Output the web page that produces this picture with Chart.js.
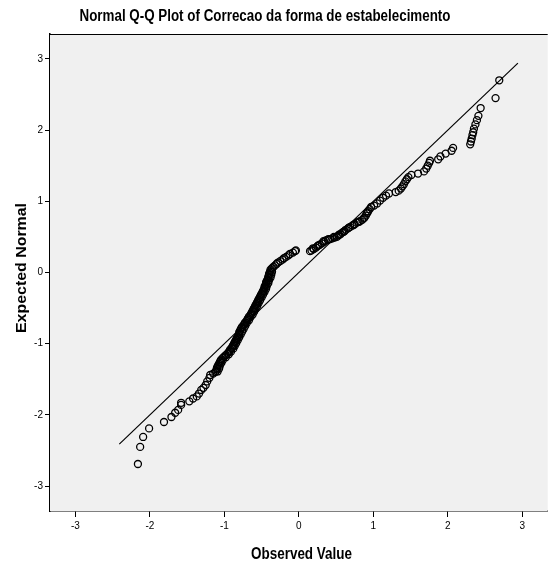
<!DOCTYPE html>
<html>
<head>
<meta charset="utf-8">
<script src="https://cdn.jsdelivr.net/npm/chart.js@4"></script>
<style>
  html, body { margin: 0; padding: 0; background: #fff; }
  #wrap { width: 553px; height: 565px; }
</style>
</head>
<body>
<div id="wrap"><canvas id="qq" width="553" height="565"></canvas></div>
<script>
var observed = [
  -2.16, -2.13, -2.09, -2.01, -1.81, -1.71, -1.66, -1.62, -1.58, -1.58,
  -1.47, -1.42, -1.37, -1.34, -1.31, -1.28, -1.25, -1.23, -1.20, -1.19, -1.15,
  -1.12, -1.11, -1.10, -1.10, -1.09, -1.08, -1.07, -1.06, -1.05, -1.04,
  -1.02, -1.00, -0.98, -0.96, -0.94, -0.93, -0.92, -0.90, -0.89,
  -0.88, -0.87, -0.86, -0.85, -0.84, -0.83, -0.82, -0.81, -0.80, -0.80, -0.79, -0.78,
  -0.77, -0.76, -0.74, -0.73, -0.72, -0.70, -0.69,
  -0.68, -0.67, -0.65, -0.64, -0.63, -0.62, -0.61, -0.60,
  -0.59, -0.58, -0.57, -0.56, -0.55, -0.54, -0.53,
  -0.52, -0.51, -0.50, -0.49, -0.48, -0.47,
  -0.46, -0.46, -0.45, -0.44, -0.44, -0.43, -0.42,
  -0.41, -0.41, -0.40, -0.40, -0.39, -0.38, -0.38,
  -0.36, -0.34, -0.32, -0.30, -0.28, -0.25, -0.22, -0.20,
  -0.17, -0.14, -0.12, -0.08, -0.05, -0.04,
  -1.09, -1.07, -1.06, -1.04, -1.02, -0.98, -0.94, -0.91, -0.88, -0.86,
  -0.84, -0.82, -0.80, -0.78, -0.76, -0.74, -0.72, -0.70, -0.67, -0.65,
  -0.62, -0.60, -0.58, -0.56, -0.54, -0.52, -0.50, -0.48, -0.46, -0.44,
  -0.43, -0.41, -0.40, -0.38, -0.37, -0.36,
  0.15, 0.17, 0.20, 0.23, 0.25, 0.28, 0.31, 0.34, 0.36, 0.39,
  0.42, 0.45, 0.48, 0.51, 0.53, 0.56, 0.58, 0.61, 0.63, 0.66,
  0.69, 0.72, 0.75, 0.78, 0.82, 0.85, 0.88, 0.90, 0.91, 0.93,
  0.19, 0.26, 0.33, 0.40, 0.47, 0.54, 0.60, 0.67, 0.74, 0.80, 0.87, 0.92,
  0.95, 0.97, 1.01, 1.05, 1.09, 1.13, 1.17, 1.21, 1.30, 1.34,
  1.37, 1.39, 1.41, 1.43, 1.45, 1.47, 1.51, 1.60, 1.68, 1.71,
  1.73, 1.75, 1.76, 1.87, 1.90, 1.97, 2.05, 2.07,
  2.30, 2.31, 2.32, 2.33, 2.34, 2.35, 2.37, 2.39, 2.41, 2.44, 2.64, 2.69
];
var expected = [
  -2.69, -2.45, -2.31, -2.19, -2.10, -2.03, -1.97, -1.93, -1.86, -1.83,
  -1.81, -1.77, -1.74, -1.70, -1.65, -1.62, -1.58, -1.53, -1.48, -1.44, -1.42,
  -1.40, -1.38, -1.36, -1.34, -1.32, -1.30, -1.28, -1.26, -1.24, -1.22,
  -1.20, -1.18, -1.16, -1.14, -1.12, -1.10, -1.08, -1.06, -1.04,
  -1.02, -1.00, -0.98, -0.96, -0.94, -0.92, -0.90, -0.88, -0.86, -0.84, -0.82, -0.80,
  -0.78, -0.76, -0.74, -0.72, -0.70, -0.68, -0.66,
  -0.64, -0.62, -0.60, -0.58, -0.56, -0.54, -0.52, -0.50,
  -0.48, -0.46, -0.44, -0.42, -0.40, -0.38, -0.36,
  -0.34, -0.32, -0.30, -0.28, -0.26, -0.24,
  -0.22, -0.20, -0.18, -0.16, -0.14, -0.12, -0.10,
  -0.08, -0.06, -0.04, -0.02, 0.00, 0.02, 0.04,
  0.06, 0.08, 0.10, 0.12, 0.14, 0.16, 0.18, 0.20,
  0.22, 0.24, 0.26, 0.28, 0.30, 0.31,
  -1.39, -1.35, -1.31, -1.27, -1.23, -1.19, -1.15, -1.11, -1.07, -1.03,
  -0.99, -0.95, -0.91, -0.87, -0.83, -0.79, -0.75, -0.71, -0.67, -0.63,
  -0.59, -0.55, -0.51, -0.47, -0.43, -0.39, -0.35, -0.31, -0.27, -0.23,
  -0.19, -0.15, -0.11, -0.07, -0.03, 0.01,
  0.30, 0.31, 0.33, 0.35, 0.37, 0.39, 0.41, 0.43, 0.45, 0.46,
  0.47, 0.48, 0.49, 0.50, 0.52, 0.54, 0.56, 0.58, 0.60, 0.62,
  0.64, 0.66, 0.68, 0.70, 0.72, 0.74, 0.77, 0.80, 0.83, 0.86,
  0.34, 0.38, 0.44, 0.47, 0.50, 0.53, 0.57, 0.63, 0.67, 0.71, 0.76, 0.84,
  0.89, 0.92, 0.94, 0.97, 1.01, 1.05, 1.08, 1.11, 1.13, 1.15,
  1.18, 1.21, 1.24, 1.28, 1.31, 1.34, 1.37, 1.39, 1.42, 1.46,
  1.50, 1.54, 1.57, 1.59, 1.63, 1.67, 1.71, 1.75,
  1.80, 1.84, 1.88, 1.93, 1.97, 2.02, 2.08, 2.14, 2.20, 2.31, 2.45, 2.70
];
// reference line end points
var lineX = [-2.41, 2.94];
var lineY = [-2.41, 2.94];
var tickValues = [-3, -2, -1, 0, 1, 2, 3];

var chartTitle = 'Normal Q-Q Plot of Correcao da forma de estabelecimento';
var xTitle = 'Observed Value';
var yTitle = 'Expected Normal';

var sans = "'Liberation Sans', Arial, sans-serif";

var points = observed.map(function(v, i) { return { x: v, y: expected[i] }; });
var refLine = lineX.map(function(v, i) { return { x: v, y: lineY[i] }; });

// text squeezed to a width, to mimic the narrow SPSS font
function squeezeText(ctx, text, cx, cy, font, width) {
  ctx.save();
  ctx.font = font;
  var w = ctx.measureText(text).width;
  ctx.translate(cx, cy);
  ctx.scale(width / w, 1);
  ctx.fillText(text, 0, 0);
  ctx.restore();
}

// grey plot area, frame and the text around it
var decor = {
  id: 'decor',
  beforeDatasetsDraw: function(chart) {
    var a = chart.chartArea, ctx = chart.ctx;
    ctx.save();
    ctx.fillStyle = '#f0f0f0';
    ctx.fillRect(a.left, a.top, a.right - a.left, a.bottom - a.top);
    ctx.restore();
  },
  afterDraw: function(chart) {
    var a = chart.chartArea, ctx = chart.ctx;
    ctx.save();
    ctx.strokeStyle = '#000';
    ctx.lineWidth = 1;
    ctx.beginPath();
    ctx.moveTo(a.left, a.top + 0.5);
    ctx.lineTo(a.right, a.top + 0.5);
    ctx.stroke();

    ctx.fillStyle = '#000';
    ctx.textAlign = 'center';
    ctx.textBaseline = 'middle';
    squeezeText(ctx, chartTitle, 265, 17, 'bold 16px ' + sans, 371);
    squeezeText(ctx, xTitle, (a.left + 553) / 2, 555, 'bold 16px ' + sans, 101);

    ctx.translate(22, 268);
    ctx.rotate(-Math.PI / 2);
    squeezeText(ctx, yTitle, 0, 0, 'bold 15px ' + sans, 130);
    ctx.restore();
  }
};

new Chart(document.getElementById('qq'), {
  type: 'scatter',
  data: {
    datasets: [
      {
        data: points,
        pointStyle: 'circle',
        pointRadius: 3.5,
        pointBorderWidth: 1.3,
        borderColor: '#000',
        backgroundColor: 'rgba(0,0,0,0)'
      },
      {
        type: 'line',
        data: refLine,
        borderColor: '#000',
        borderWidth: 1.2,
        pointRadius: 0,
        fill: false
      }
    ]
  },
  options: {
    responsive: false,
    animation: false,
    events: [],
    layout: { padding: { top: 34, left: 0, right: 0, bottom: 0 } },
    plugins: { legend: { display: false }, tooltip: { enabled: false }, title: { display: false } },
    scales: {
      x: {
        type: 'linear',
        min: -3.34,
        max: 3.34,
        afterBuildTicks: function(s) { s.ticks = tickValues.map(function(v) { return { value: v }; }); },
        afterFit: function(s) { s.height = 54; },
        grid: { display: true, drawOnChartArea: false, drawTicks: true, tickLength: 6, color: '#000', tickColor: '#000' },
        border: { display: true, color: '#000', width: 1.5 },
        ticks: { color: '#000', padding: 3, font: { family: sans, size: 10 }, maxRotation: 0 }
      },
      y: {
        type: 'linear',
        min: -3.35,
        max: 3.35,
        afterBuildTicks: function(s) { s.ticks = tickValues.map(function(v) { return { value: v }; }); },
        afterFit: function(s) { s.width = 50; },
        grid: { display: true, drawOnChartArea: false, drawTicks: true, tickLength: 5, color: '#000', tickColor: '#000' },
        border: { display: true, color: '#000', width: 1.5 },
        ticks: { color: '#000', padding: 2, font: { family: sans, size: 10 } }
      }
    }
  },
  plugins: [decor]
});
</script>
</body>
</html>
